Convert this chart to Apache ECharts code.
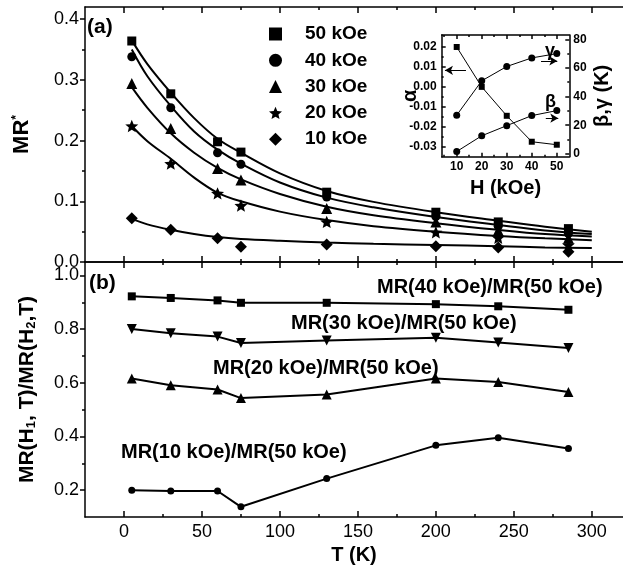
<!DOCTYPE html>
<html>
<head>
<meta charset="utf-8">
<script src="https://cdn.jsdelivr.net/npm/echarts@6/dist/echarts.min.js"></script>
<style>
  html, body { margin: 0; padding: 0; background: #fff; }
  #chart { width: 623px; height: 572px; }
</style>
</head>
<body>
<div id="chart"></div>
<script>
// measured temperatures (K)
const temps = [5, 30, 60, 75, 130, 200, 240, 285];

// panel (a): MR* at each field
const mr50 = [0.364, 0.277, 0.198, 0.181, 0.115, 0.082, 0.066, 0.055];
const mr40 = [0.338, 0.254, 0.180, 0.161, 0.107, 0.075, 0.059, 0.047];
const mr30 = [0.294, 0.220, 0.154, 0.135, 0.088, 0.066, 0.052, 0.039];
const mr20 = [0.224, 0.162, 0.113, 0.093, 0.066, 0.049, 0.040, 0.028];
const mr10 = [0.072, 0.053, 0.039, 0.025, 0.029, 0.026, 0.024, 0.017];

// fitted curves
const fitTemps = [5, 15, 30, 45, 60, 75, 100, 130, 160, 200, 240, 270, 300];
const fit50 = [0.365, 0.326, 0.279, 0.237, 0.203, 0.180, 0.146, 0.117, 0.099, 0.082, 0.068, 0.058, 0.050];
const fit40 = [0.350, 0.306, 0.257, 0.215, 0.185, 0.162, 0.131, 0.106, 0.090, 0.074, 0.061, 0.052, 0.046];
const fit30 = [0.288, 0.254, 0.212, 0.180, 0.155, 0.136, 0.112, 0.091, 0.077, 0.064, 0.053, 0.046, 0.042];
const fit20 = [0.224, 0.199, 0.170, 0.139, 0.114, 0.100, 0.083, 0.069, 0.059, 0.050, 0.043, 0.039, 0.036];
const fit10 = [0.071, 0.062, 0.053, 0.046, 0.041, 0.038, 0.035, 0.032, 0.030, 0.028, 0.026, 0.024, 0.023];

// panel (b): MR(H1)/MR(50 kOe)
const ratio40 = [0.922, 0.916, 0.907, 0.898, 0.898, 0.893, 0.885, 0.872];
const ratio30 = [0.800, 0.785, 0.772, 0.748, 0.758, 0.768, 0.750, 0.730];
const ratio20 = [0.616, 0.591, 0.575, 0.543, 0.556, 0.616, 0.603, 0.566];
const ratio10 = [0.200, 0.197, 0.197, 0.138, 0.243, 0.367, 0.395, 0.355];

// inset
const fields = [10, 20, 30, 40, 50];
const alpha = [0.020, 0.000, -0.0145, -0.0275, -0.029];
const gamma = [27, 51, 61, 67, 70];
const beta = [1.6, 12.6, 19.7, 26.7, 30.2];

// ticks
const tempTicks = [0, 50, 100, 150, 200, 250, 300];
const tempMinor = [25, 75, 125, 175, 225, 275];
const mrTicks = [0, 0.1, 0.2, 0.3, 0.4];
const mrMinor = [0.05, 0.15, 0.25, 0.35];
const ratioTicks = [0.2, 0.4, 0.6, 0.8, 1.0];
const ratioMinor = [0.3, 0.5, 0.7, 0.9];
const fieldTicks = [10, 20, 30, 40, 50];
const fieldMinor = [5, 15, 25, 35, 45];
const alphaTicks = [-0.03, -0.02, -0.01, 0, 0.01, 0.02];
const alphaMinor = [-0.025, -0.015, -0.005, 0.005, 0.015];
const kTicks = [0, 20, 40, 60, 80];
const kMinor = [10, 30, 50, 70];

const black = '#000';
const font = 'Liberation Sans';
const star = 'path://M0,-10L2.65,-3.64L9.51,-3.09L4.28,1.39L5.88,8.09L0,4.5L-5.88,8.09L-4.28,1.39L-9.51,-3.09L-2.65,-3.64Z';

const pairs = (xs, ys) => xs.map((x, i) => [x, ys[i]]);

function axis(grid, position, min, max, ticks, len, inside, line, extra) {
  return Object.assign({
    type: 'value', gridIndex: grid, position, min, max,
    nameMoveOverlap: false,
    axisLine: { show: line, onZero: false, lineStyle: { color: black, width: 1.5 } },
    axisTick: { show: true, inside, length: len, customValues: ticks, lineStyle: { color: black, width: 1.5 } },
    axisLabel: { show: false },
    splitLine: { show: false }
  }, extra || {});
}

function labels(values, fmt, size, margin, bold) {
  return {
    show: true, customValues: values, formatter: fmt, margin,
    color: black, fontSize: size, fontFamily: font, fontWeight: bold ? 'bold' : 'normal'
  };
}

const xAxis = [
  axis(0, 'bottom', -25, 320, tempTicks, 6, true, true),
  axis(0, 'bottom', -25, 320, tempMinor, 3, true, false),
  axis(0, 'top', -25, 320, tempTicks, 6, true, true),
  axis(0, 'top', -25, 320, tempMinor, 3, true, false),
  axis(1, 'bottom', -25, 320, tempTicks, 6, true, true, {
    axisLabel: labels(tempTicks, v => String(v), 18, 6),
    name: 'T (K)', nameLocation: 'middle', nameGap: 28,
    nameTextStyle: { color: black, fontSize: 20, fontWeight: 'bold', fontFamily: font }
  }),
  axis(1, 'bottom', -25, 320, tempMinor, 3, true, false),
  axis(1, 'top', -25, 320, tempTicks, 6, true, true),
  axis(1, 'top', -25, 320, tempMinor, 3, true, false),
  axis(2, 'bottom', 4, 55, fieldTicks, 4, true, true, {
    axisLabel: labels(fieldTicks, v => String(v), 12, 4, true),
    name: 'H (kOe)', nameLocation: 'middle', nameGap: 22,
    nameTextStyle: { color: black, fontSize: 20, fontWeight: 'bold', fontFamily: font }
  }),
  axis(2, 'bottom', 4, 55, fieldMinor, 2, true, false),
  axis(2, 'top', 4, 55, fieldTicks, 4, true, true),
  axis(2, 'top', 4, 55, fieldMinor, 2, true, false)
];

const yAxis = [
  axis(0, 'left', 0, 0.42, mrTicks, 5, false, true, {
    axisLabel: labels(mrTicks, v => v.toFixed(1), 18, 6),
    name: '{m|MR}{s|*}', nameLocation: 'middle', nameRotate: 90, nameGap: 52,
    nameTextStyle: {
      color: black, fontFamily: font,
      rich: {
        m: { fontSize: 22, fontWeight: 'bold', fontFamily: font, color: black },
        s: { fontSize: 12, fontWeight: 'bold', fontFamily: font, color: black, verticalAlign: 'top' }
      }
    }
  }),
  axis(0, 'left', 0, 0.42, mrMinor, 3, false, false),
  axis(1, 'left', 0.1, 1.05, ratioTicks, 5, false, true, {
    axisLabel: labels(ratioTicks, v => v.toFixed(1), 18, 6),
    name: '{m|MR(H}{s|1}{m|, T)/MR(H}{s|2}{m|,T)}', nameLocation: 'middle', nameRotate: 90, nameGap: 47,
    nameTextStyle: {
      color: black, fontFamily: font,
      rich: {
        m: { fontSize: 21, fontWeight: 'bold', fontFamily: font, color: black },
        s: { fontSize: 13, fontWeight: 'bold', fontFamily: font, color: black, verticalAlign: 'bottom' }
      }
    }
  }),
  axis(1, 'left', 0.1, 1.05, ratioMinor, 3, false, false),
  axis(2, 'left', -0.035, 0.026, alphaTicks, 4, true, true, {
    axisLabel: labels(alphaTicks, v => v.toFixed(2), 12, 5, true),
    name: 'α', nameLocation: 'middle', nameRotate: 90, nameGap: 21,
    nameTextStyle: { color: black, fontSize: 20, fontWeight: 'bold', fontFamily: font }
  }),
  axis(2, 'left', -0.035, 0.026, alphaMinor, 2, true, false),
  axis(2, 'right', -2, 83, kTicks, 4, true, true, {
    axisLabel: labels(kTicks, v => String(v), 12, 4, true),
    name: 'β,γ (K)', nameLocation: 'middle', nameRotate: 90, nameGap: 23,
    nameTextStyle: { color: black, fontSize: 20, fontWeight: 'bold', fontFamily: font }
  }),
  axis(2, 'right', -2, 83, kMinor, 2, true, false)
];

function points(name, ys, symbol, size) {
  return {
    name, type: 'scatter', xAxisIndex: 0, yAxisIndex: 0,
    data: pairs(temps, ys), symbol, symbolSize: size,
    symbolKeepAspect: true, itemStyle: { color: black, opacity: 1 }, z: 3
  };
}

function fit(ys) {
  return {
    type: 'line', xAxisIndex: 0, yAxisIndex: 0, data: pairs(fitTemps, ys),
    symbol: 'none', smooth: 0.35, silent: true,
    lineStyle: { color: black, width: 2 }
  };
}

function ratio(ys, symbol, size, rotate) {
  return {
    type: 'line', xAxisIndex: 4, yAxisIndex: 2, data: pairs(temps, ys),
    symbol, symbolSize: size, symbolRotate: rotate || 0, showAllSymbol: true,
    itemStyle: { color: black }, lineStyle: { color: black, width: 2 }
  };
}

function arrow(from, to) {
  return [{ coord: from }, { coord: to }];
}

const arrowStyle = {
  silent: true, symbol: ['none', 'arrow'], symbolSize: [7, 8],
  label: { show: false }, lineStyle: { color: black, width: 1, type: 'solid' }
};

const boldText = (text, x, y, size) => ({
  type: 'text', x, y,
  style: { text, fill: black, font: `bold ${size}px "${font}"`, align: 'left', verticalAlign: 'middle' }
});

const option = {
  backgroundColor: '#fff',
  animation: false,
  textStyle: { fontFamily: font },
  grid: [
    { left: 85, top: 7, right: 0, height: 255, outerBoundsMode: 'none' },
    { left: 85, top: 262, right: 0, height: 255, outerBoundsMode: 'none' },
    { left: 441.7, top: 35, width: 127.6, height: 121.7, outerBoundsMode: 'none' }
  ],
  xAxis,
  yAxis,
  legend: {
    orient: 'vertical', left: 264, top: 19.5, itemWidth: 13, itemHeight: 13, itemGap: 7.3,
    selectedMode: false,
    data: ['50 kOe', '40 kOe', '30 kOe', '20 kOe', '10 kOe'],
    textStyle: { color: black, fontSize: 19, fontWeight: 'bold', fontFamily: font, padding: [0, 0, 0, 18] }
  },
  series: [
    points('50 kOe', mr50, 'rect', 9),
    points('40 kOe', mr40, 'circle', 9),
    points('30 kOe', mr30, 'triangle', 11),
    points('20 kOe', mr20, star, 13),
    points('10 kOe', mr10, 'diamond', 12),
    fit(fit50), fit(fit40), fit(fit30), fit(fit20), fit(fit10),
    ratio(ratio40, 'rect', 8),
    ratio(ratio30, 'triangle', 10, 180),
    ratio(ratio20, 'triangle', 10),
    ratio(ratio10, 'circle', 7),
    {
      type: 'line', xAxisIndex: 8, yAxisIndex: 4, data: pairs(fields, alpha),
      symbol: 'rect', symbolSize: 6, itemStyle: { color: black }, lineStyle: { color: black, width: 1 },
      markLine: Object.assign({ data: [arrow([13.7, 0.0083], [5.3, 0.0083])] }, arrowStyle)
    },
    {
      type: 'line', xAxisIndex: 8, yAxisIndex: 6, data: pairs(fields, gamma),
      symbol: 'circle', symbolSize: 7, itemStyle: { color: black }, lineStyle: { color: black, width: 1 },
      markLine: Object.assign({ data: [arrow([43.7, 64.9], [50.2, 64.9])] }, arrowStyle)
    },
    {
      type: 'line', xAxisIndex: 8, yAxisIndex: 6, data: pairs(fields, beta),
      symbol: 'circle', symbolSize: 7, itemStyle: { color: black }, lineStyle: { color: black, width: 1 },
      markLine: Object.assign({ data: [arrow([45.6, 24.9], [50.6, 24.9])] }, arrowStyle)
    }
  ],
  graphic: [
    boldText('(a)', 87, 27, 21),
    boldText('(b)', 89, 283, 21),
    boldText('MR(40 kOe)/MR(50 kOe)', 377, 287, 20),
    boldText('MR(30 kOe)/MR(50 kOe)', 291, 323, 20),
    boldText('MR(20 kOe)/MR(50 kOe)', 213, 368, 20),
    boldText('MR(10 kOe)/MR(50 kOe)', 121, 452, 20),
    boldText('γ', 545, 51, 18),
    boldText('β', 545, 102, 18)
  ]
};

const chart = echarts.init(document.getElementById('chart'));
chart.setOption(option);
</script>
</body>
</html>
